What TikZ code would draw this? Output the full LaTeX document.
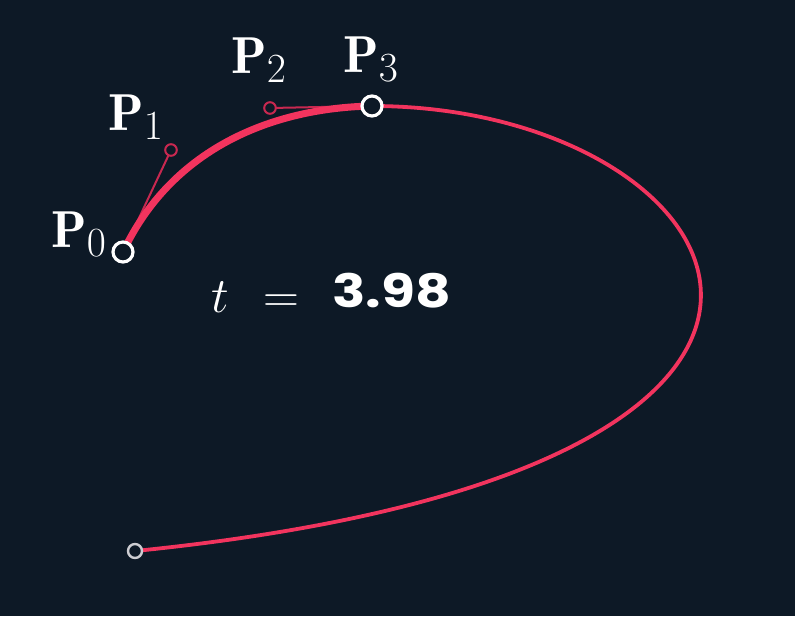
\documentclass[tikz,border=0pt]{standalone}
\usepackage{amsmath}
\usepackage{fontspec}
\newfontfamily\valfont{Poppins}
\DeclareMathSizes{26}{26}{20}{15}
\usepackage{tikz}
\tikzset{>=latex}
\usetikzlibrary{calc}
\definecolor{bgnavy}{RGB}{13,25,38}
\definecolor{curvered}{RGB}{242,52,94}
\definecolor{handlered}{RGB}{200,40,80}
\definecolor{enddot}{RGB}{205,205,210}

\begin{document}
\begin{tikzpicture}[line cap=round,line join=round,x=0.5pt,y=-0.5pt,
    bigdot/.style={circle,draw=white,fill=bgnavy,line width=1.6pt,minimum size=10pt,inner sep=0pt},
    handledot/.style={circle,draw=handlered,fill=bgnavy,line width=1pt,minimum size=5.8pt,inner sep=0pt},
    lastdot/.style={circle,draw=enddot,fill=bgnavy,line width=1.2pt,minimum size=7pt,inner sep=0pt},
    mathlabel/.style={text=white,inner sep=0pt,anchor=base west,font=\fontsize{26}{31}\selectfont}]
			\useasboundingbox (0,0) rectangle (795,616);
			\fill[bgnavy] (0,0) rectangle (795,616);
			% control points and end point
			\coordinate (p0) at (123,252);
			\coordinate (p1) at (171,150);
			\coordinate (p2) at (270,108);
			\coordinate (p3) at (372,106);
			\coordinate (q1) at (740,106);
			\coordinate (q2) at (960,468);
			\coordinate (pend) at (135,551);
			\draw[curvered,line width=1.9pt] (p3) .. controls (q1) and (q2) .. (pend);
			\draw[handlered,line width=1pt] (p0) -- (p1);
			\draw[handlered,line width=1pt] (p2) -- (p3);
			\draw[curvered,line width=3.5pt] (p0) .. controls (p1) and (p2) .. (p3);
			\node[handledot] (d1) at (p1) {};
			\node[handledot] (d2) at (p2) {};
			\node[bigdot] (d0) at (p0) {};
			\node[bigdot] (d3) at (p3) {};
			\node[lastdot] (dend) at (pend) {};
			% labels
			\node[mathlabel] (l0) at (51,247) {$\mathbf{P}_0$};
			\node[mathlabel] (l1) at (108,130) {$\mathbf{P}_1$};
			\node[mathlabel] (l2) at (231,73) {$\mathbf{P}_2$};
			\node[mathlabel] (l3) at (343,72) {$\mathbf{P}_3$};
			\node[mathlabel] (tvar) at (211,312) {$t$};
			\node[mathlabel] (teq) at (263,312) {$=$};
			\node[text=white,inner sep=0pt,anchor=base west,xscale=1.2,font=\valfont\bfseries\fontsize{23}{28}\selectfont] (tval) at (332,307) {3.98};
		\end{tikzpicture}
\end{document}
